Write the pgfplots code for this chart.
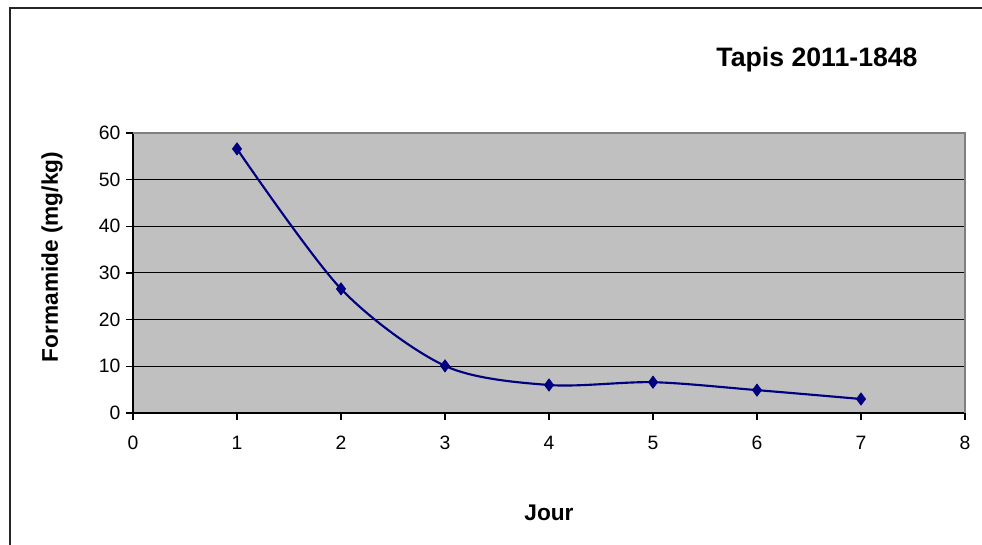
\documentclass[border=0pt]{standalone}
\usepackage{pgfplots}
\pgfplotsset{compat=1.18}
\usepackage{fontspec}
\setmainfont{Liberation Sans}
\definecolor{plotgray}{RGB}{192,192,192}
\definecolor{navyline}{RGB}{0,0,128}
\begin{document}
\begin{tikzpicture}[x=0.75pt,y=0.75pt]
\useasboundingbox (0,0) rectangle (982,545);
\draw[black!85, line width=0.8pt] (10,0) -- (10,537) -- (982,537);
\begin{axis}[
    at={(99.75pt,99pt)}, anchor=south west,
    scale only axis,
    width=624pt, height=210pt,
    xmin=0, xmax=8, ymin=0, ymax=60,
    xtick={0,1,...,8}, ytick={0,10,...,60},
    axis x line*=bottom, axis y line*=left,
    axis line style={-, black, line width=0.8pt},
    tick align=outside, major tick length=5pt,
    tick style={black, line width=0.8pt},
    ymajorgrids, grid style={black, line width=0.75pt},
    axis background/.style={fill=plotgray},
    /pgf/number format/assume math mode=true,
    ticklabel style={font=\fontsize{14.5}{16}\selectfont},
    xticklabel style={yshift=-9pt},
    yticklabel style={xshift=-1pt},
    clip=false,
]
\addplot[navyline, line width=1.6pt, smooth, tension=0.5,
    mark=diamond*, mark size=4.6pt, mark options={fill=navyline, draw=navyline, line width=0.5pt}]
    coordinates {(1,56.6) (2,26.6) (3,10.1) (4,6.0) (5,6.6) (6,4.9) (7,3.0)};
\draw[gray, line width=0.8pt] (rel axis cs:0,1) -- (rel axis cs:1,1) -- (rel axis cs:1,0);
\end{axis}
\node[font=\bfseries\fontsize{20}{24}\selectfont] at (817,485) {Tapis 2011-1848};
\node[font=\bfseries\fontsize{17}{20}\selectfont] at (549,32) {Jour};
\node[font=\bfseries\fontsize{17}{20}\selectfont, rotate=90] at (52,288) {Formamide (mg/kg)};
\end{tikzpicture}
\end{document}
